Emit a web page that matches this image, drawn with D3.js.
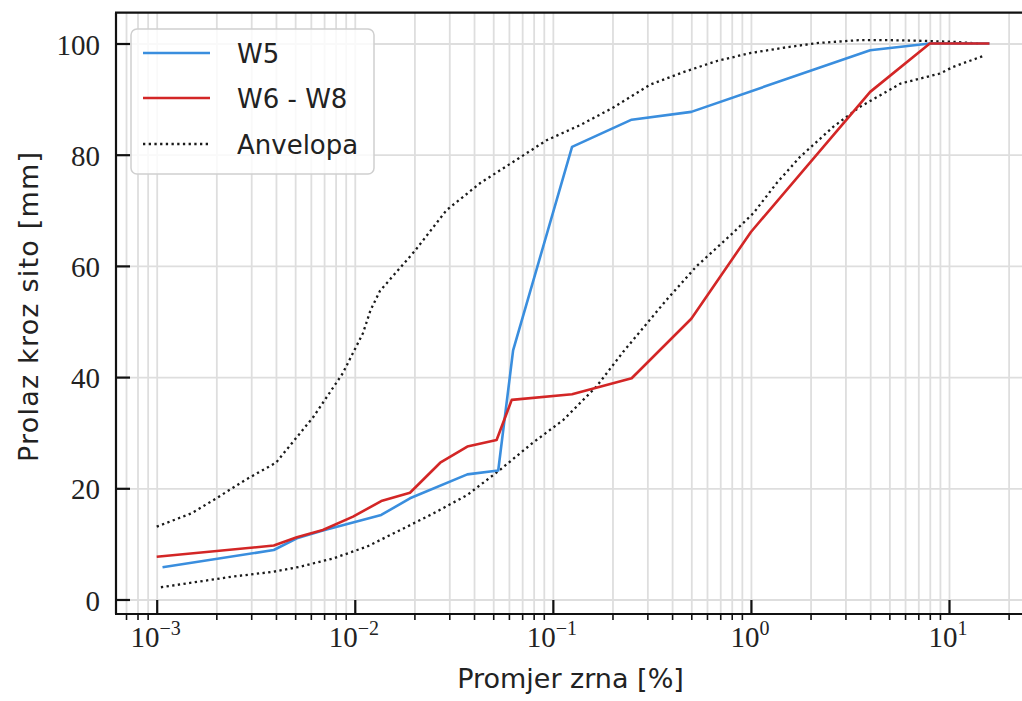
<!DOCTYPE html>
<html>
<head>
<meta charset="utf-8">
<script src="https://cdn.jsdelivr.net/npm/d3@7"></script>
<style>
  html, body { margin: 0; padding: 0; background: #fff; overflow: hidden; }
  svg { display: block; }
</style>
</head>
<body>
<svg id="chart" width="1022" height="701"></svg>
<script>
// Grain size distribution: passing percentage vs grain diameter (log scale)

// W5 sample
const w5Size = [0.00107, 0.0039, 0.0051, 0.0069, 0.0136, 0.019, 0.037, 0.053, 0.063, 0.125, 0.25, 0.5, 4.0, 8.0, 16.0];
const w5Pass = [5.8, 8.9, 11.0, 12.4, 15.2, 18.2, 22.5, 23.2, 44.8, 81.4, 86.3, 87.7, 98.8, 100, 100];

// W6 - W8 samples
const w68Size = [0.001, 0.0039, 0.0051, 0.0069, 0.0098, 0.0136, 0.019, 0.027, 0.037, 0.052, 0.062, 0.125, 0.25, 0.5, 1.0, 4.0, 8.0, 16.0];
const w68Pass = [7.7, 9.7, 11.2, 12.5, 14.9, 17.7, 19.2, 24.6, 27.5, 28.7, 35.9, 36.9, 39.8, 50.5, 66.1, 91.3, 100, 100];

// Envelope, upper bound
const envUpSize = [0.001, 0.0015, 0.002, 0.0028, 0.004, 0.0062, 0.0087, 0.011, 0.012, 0.0134, 0.02, 0.029, 0.043, 0.063, 0.093, 0.137, 0.2, 0.31, 0.46, 0.68, 1.0, 1.5, 2.2, 3.5, 5.0, 7.0, 10.5, 14.0];
const envUpPass = [13.1, 15.5, 18.2, 21.5, 24.6, 32.9, 40.7, 47.9, 52.0, 55.5, 62.6, 70.0, 74.9, 78.7, 82.6, 85.3, 88.4, 92.6, 94.9, 96.9, 98.3, 99.3, 100.1, 100.6, 100.6, 100.5, 100.3, 100.0];

// Envelope, lower bound
const envLoSize = [0.00105, 0.0024, 0.0039, 0.0053, 0.0078, 0.0115, 0.017, 0.025, 0.037, 0.054, 0.078, 0.113, 0.166, 0.226, 0.375, 0.53, 0.81, 1.03, 1.35, 1.77, 2.6, 3.55, 5.7, 9.0, 10.5, 15.0];
const envLoPass = [2.2, 4.1, 5.0, 5.9, 7.4, 9.5, 12.5, 15.5, 18.8, 23.3, 28.0, 32.3, 38.3, 44.5, 53.9, 59.9, 65.9, 69.5, 74.9, 79.6, 85.0, 88.6, 92.8, 94.6, 95.8, 97.8];

// Axis ticks
const xMajor = [1e-3, 1e-2, 1e-1, 1e0, 1e1];
const xMajorExp = ["\u22123", "\u22122", "\u22121", "0", "1"];
const yTicks = [0, 20, 40, 60, 80, 100];

const legendLabels = ["W5", "W6 - W8", "Anvelopa"];

const COL_W5 = "#3a8ede";
const COL_W68 = "#d32626";
const COL_ENV = "#1a1a1a";

const svg = d3.select("#chart");
const W = 1022, H = 701;
svg.append("rect").attr("width", W).attr("height", H).attr("fill", "#fff");

const plot = { left: 116, right: 1031, top: 12.7, bottom: 614 };

const x = d3.scaleLog()
  .domain([Math.pow(10, -3.2055), Math.pow(10, 1.414)])
  .range([plot.left, plot.right]);
const y = d3.scaleLinear()
  .domain([-2.61, 105.54])
  .range([plot.bottom, plot.top]);

// minor x ticks 2..9 per decade inside the domain
const xMinor = [];
for (let e = -4; e <= 1; e++) {
  for (let m = 2; m <= 9; m++) {
    const v = m * Math.pow(10, e);
    if (v >= x.domain()[0] && v <= x.domain()[1]) xMinor.push(v);
  }
}

svg.append("defs").append("clipPath").attr("id", "plotClip")
  .append("rect")
  .attr("x", plot.left).attr("y", plot.top)
  .attr("width", plot.right - plot.left).attr("height", plot.bottom - plot.top);

// grid
const grid = svg.append("g").attr("clip-path", "url(#plotClip)");
const gridColor = "#dedede";
grid.append("g")
  .attr("transform", `translate(0,${plot.bottom})`)
  .call(d3.axisBottom(x).tickValues(xMajor.concat(xMinor)).tickSize(-(plot.bottom - plot.top)).tickFormat(""))
  .call(g => g.select(".domain").remove())
  .call(g => g.selectAll("line").attr("stroke", gridColor).attr("stroke-width", 1.8));
grid.append("g")
  .attr("transform", `translate(${plot.left},0)`)
  .call(d3.axisLeft(y).tickValues(yTicks).tickSize(-(plot.right - plot.left)).tickFormat(""))
  .call(g => g.select(".domain").remove())
  .call(g => g.selectAll("line").attr("stroke", gridColor).attr("stroke-width", 1.8));

// series
const lineGen = d3.line().x(d => x(d[0])).y(d => y(d[1]));
const zip = (a, b) => a.map((v, i) => [v, b[i]]);

const series = svg.append("g").attr("clip-path", "url(#plotClip)");
series.append("path").datum(zip(envUpSize, envUpPass))
  .attr("d", lineGen).attr("fill", "none").attr("stroke", COL_ENV)
  .attr("stroke-width", 2.3).attr("stroke-dasharray", "2.3,3.4");
series.append("path").datum(zip(envLoSize, envLoPass))
  .attr("d", lineGen).attr("fill", "none").attr("stroke", COL_ENV)
  .attr("stroke-width", 2.3).attr("stroke-dasharray", "2.3,3.4");
series.append("path").datum(zip(w5Size, w5Pass))
  .attr("d", lineGen).attr("fill", "none").attr("stroke", COL_W5)
  .attr("stroke-width", 2.6).attr("stroke-linejoin", "round");
series.append("path").datum(zip(w68Size, w68Pass))
  .attr("d", lineGen).attr("fill", "none").attr("stroke", COL_W68)
  .attr("stroke-width", 2.6).attr("stroke-linejoin", "round");

// spines
const spines = svg.append("g").attr("stroke", "#111").attr("stroke-width", 2.2).attr("fill", "none");
spines.append("line").attr("x1", plot.left).attr("x2", plot.left).attr("y1", plot.top).attr("y2", plot.bottom);
spines.append("line").attr("x1", plot.left - 1).attr("x2", plot.right).attr("y1", plot.bottom).attr("y2", plot.bottom);
spines.append("line").attr("x1", plot.left - 1).attr("x2", plot.right).attr("y1", plot.top).attr("y2", plot.top);
spines.append("line").attr("x1", plot.right).attr("x2", plot.right).attr("y1", plot.top).attr("y2", plot.bottom);

// x axis: major ticks inward, minor ticks outward
const xAxisMajor = svg.append("g")
  .attr("transform", `translate(0,${plot.bottom})`)
  .call(d3.axisTop(x).tickValues(xMajor).tickSize(14).tickFormat(""));
xAxisMajor.select(".domain").remove();
xAxisMajor.selectAll("line").attr("stroke", "#111").attr("stroke-width", 2.2);

const xAxisMinor = svg.append("g")
  .attr("transform", `translate(0,${plot.bottom})`)
  .call(d3.axisBottom(x).tickValues(xMinor).tickSize(6).tickFormat(""));
xAxisMinor.select(".domain").remove();
xAxisMinor.selectAll("line").attr("stroke", "#111").attr("stroke-width", 1.6);

// x tick labels as powers of ten
const xLab = svg.append("g")
  .attr("font-family", "'Liberation Serif', 'Times New Roman', serif")
  .attr("fill", "#222");
xMajor.forEach((v, i) => {
  const t = xLab.append("text")
    .attr("x", x(v) - 1).attr("y", 647)
    .attr("text-anchor", "middle");
  t.append("tspan").attr("font-size", 29).text("10");
  t.append("tspan").attr("font-size", 20).attr("dy", -12).text(xMajorExp[i]);
});

// y axis: ticks inward
const yAxis = svg.append("g")
  .attr("transform", `translate(${plot.left},0)`)
  .call(d3.axisRight(y).tickValues(yTicks).tickSize(14).tickFormat(""));
yAxis.select(".domain").remove();
yAxis.selectAll("line").attr("stroke", "#111").attr("stroke-width", 2.2);

svg.append("g")
  .attr("font-family", "'Liberation Serif', 'Times New Roman', serif")
  .attr("font-size", 29).attr("fill", "#222")
  .selectAll("text").data(yTicks).join("text")
  .attr("x", 100).attr("y", d => y(d)).attr("dy", "0.38em")
  .attr("text-anchor", "end")
  .text(d => d);

// axis titles
const sansFont = "'DejaVu Sans', 'Noto Sans', sans-serif";
svg.append("text")
  .attr("x", (plot.left + plot.right) / 2 - 3).attr("y", 688)
  .attr("text-anchor", "middle")
  .attr("font-family", sansFont).attr("font-size", 27).attr("fill", "#222")
  .text("Promjer zrna [%]");
svg.append("text")
  .attr("transform", `translate(38,${(plot.top + plot.bottom) / 2 - 7}) rotate(-90)`)
  .attr("text-anchor", "middle")
  .attr("font-family", sansFont).attr("font-size", 27).attr("fill", "#222")
  .attr("letter-spacing", 1.2)
  .text("Prolaz kroz sito [mm]");

// legend
const legend = svg.append("g");
legend.append("rect")
  .attr("x", 131).attr("y", 29).attr("width", 243).attr("height", 145)
  .attr("rx", 6).attr("ry", 6)
  .attr("fill", "#fff").attr("fill-opacity", 0.8)
  .attr("stroke", "#cfcfcf").attr("stroke-width", 1.5);
const legendStyles = [
  { color: COL_W5, dash: null, width: 2.6 },
  { color: COL_W68, dash: null, width: 2.6 },
  { color: COL_ENV, dash: "2.3,3.4", width: 2.3 }
];
const legendY = [53, 98, 144];
legendLabels.forEach((lab, i) => {
  const st = legendStyles[i];
  const ln = legend.append("line")
    .attr("x1", 143).attr("x2", 210)
    .attr("y1", legendY[i]).attr("y2", legendY[i])
    .attr("stroke", st.color).attr("stroke-width", st.width);
  if (st.dash) ln.attr("stroke-dasharray", st.dash);
  legend.append("text")
    .attr("x", 237).attr("y", legendY[i] + 10)
    .attr("font-family", sansFont).attr("font-size", 26).attr("fill", "#222")
    .text(lab);
});
</script>
</body>
</html>
